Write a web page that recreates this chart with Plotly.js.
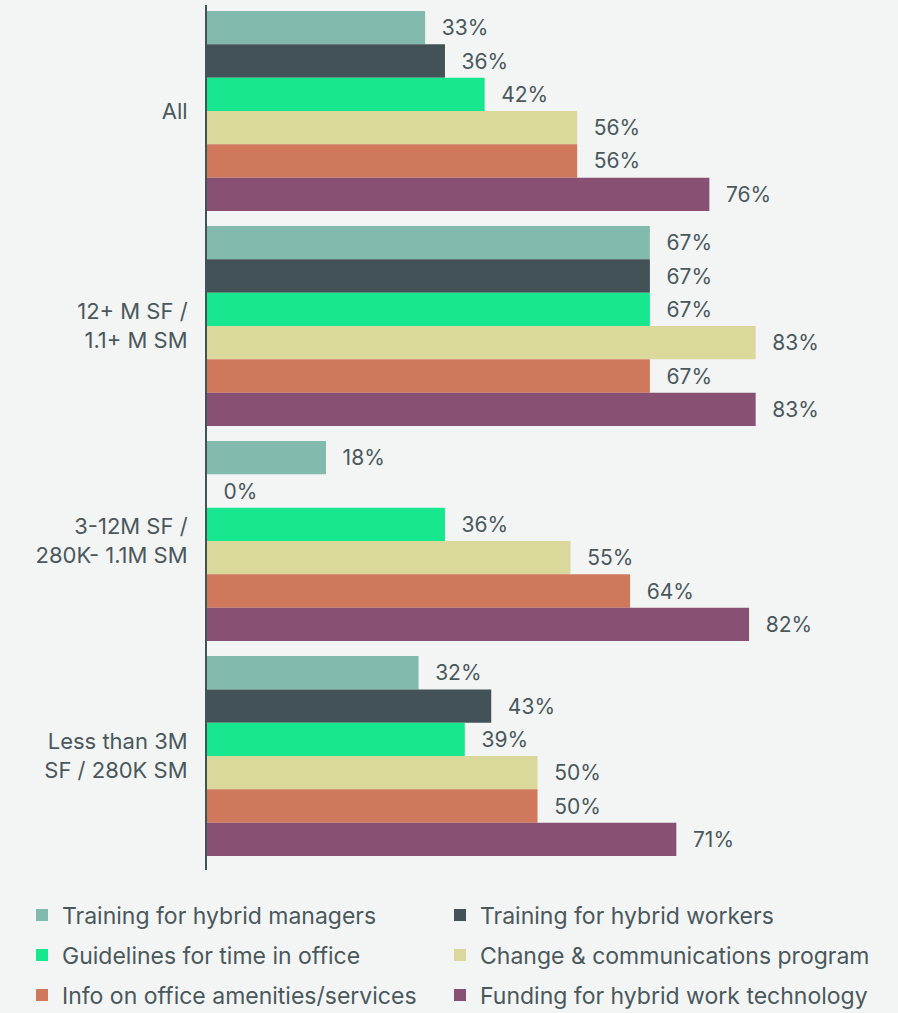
<!DOCTYPE html>
<html>
<head>
<meta charset="utf-8">
<script src="https://cdn.plot.ly/plotly-3.0.1.min.js"></script>
<style>
html,body{margin:0;padding:0;background:#f3f5f4;}
#chart{width:898px;height:1013px;}
</style>
</head>
<body>
<div id="chart"></div>
<script>
var categories = ['All', '12+ M SF /<br>1.1+ M SM', '3-12M SF /<br>280K- 1.1M SM', 'Less than 3M<br>SF / 280K SM'];
var seriesNames = ['Training for hybrid managers', 'Training for hybrid workers', 'Guidelines for time in office', 'Change & communications program', 'Info on office amenities/services', 'Funding for hybrid work technology'];
var managers = [33, 67, 18, 32];
var workers = [36, 67, 0, 43];
var guidelines = [42, 67, 36, 39];
var change = [56, 83, 55, 50];
var info = [56, 67, 64, 50];
var funding = [76, 83, 82, 71];
var colors = ['#82bbad', '#435256', '#17e88f', '#dbd89c', '#d0785b', '#885073'];

var allValues = [managers, workers, guidelines, change, info, funding];
var FONT = 'Inter, "Open Sans", sans-serif';
var TXT = '#4a585c';
var legendIds = ['legend', 'legend2', 'legend3', 'legend4', 'legend5', 'legend6'];

var traces = allValues.map(function (vals, i) {
  return {
    type: 'bar',
    orientation: 'h',
    name: seriesNames[i],
    y: categories,
    x: vals,
    marker: {color: colors[i], line: {width: 0}},
    text: vals.map(function (v) { return v + '%'; }),
    texttemplate: '\u2007%{text}',
    textposition: 'outside',
    textfont: {family: FONT, size: 21, color: TXT},
    cliponaxis: false,
    hoverinfo: 'skip',
    legend: legendIds[i]
  };
});

function legendCfg(xPix, yPix) {
  return {
    orientation: 'h',
    xref: 'container', yref: 'container',
    x: xPix / 898, xanchor: 'left',
    y: 1 - yPix / 1013, yanchor: 'middle',
    bgcolor: 'rgba(0,0,0,0)',
    font: {family: FONT, size: 23, color: TXT},
    itemclick: false, itemdoubleclick: false
  };
}

var layout = {
  width: 898, height: 1013,
  paper_bgcolor: '#f3f5f4',
  plot_bgcolor: '#f3f5f4',
  font: {family: FONT, color: TXT},
  barmode: 'group',
  bargap: 0.07,
  bargroupgap: 0,
  showlegend: true,
  margin: {l: 207, r: 26, t: 5, b: 143, autoexpand: false},
  xaxis: {range: [0, 100.6], showgrid: false, zeroline: false, showticklabels: false, showline: false, fixedrange: true},
  yaxis: {
    type: 'category',
    range: [3.53, -0.493],
    showline: true, linecolor: '#435256', linewidth: 2,
    showgrid: false, zeroline: false,
    ticks: '', ticklabelstandoff: 13,
    tickfont: {family: FONT, size: 22, color: TXT},
    fixedrange: true
  },
  legend: legendCfg(22, 915),
  legend2: legendCfg(440, 915),
  legend3: legendCfg(22, 955),
  legend4: legendCfg(440, 955),
  legend5: legendCfg(22, 995),
  legend6: legendCfg(440, 995)
};

Plotly.newPlot('chart', traces, layout, {displayModeBar: false, staticPlot: true});
</script>
</body>
</html>
